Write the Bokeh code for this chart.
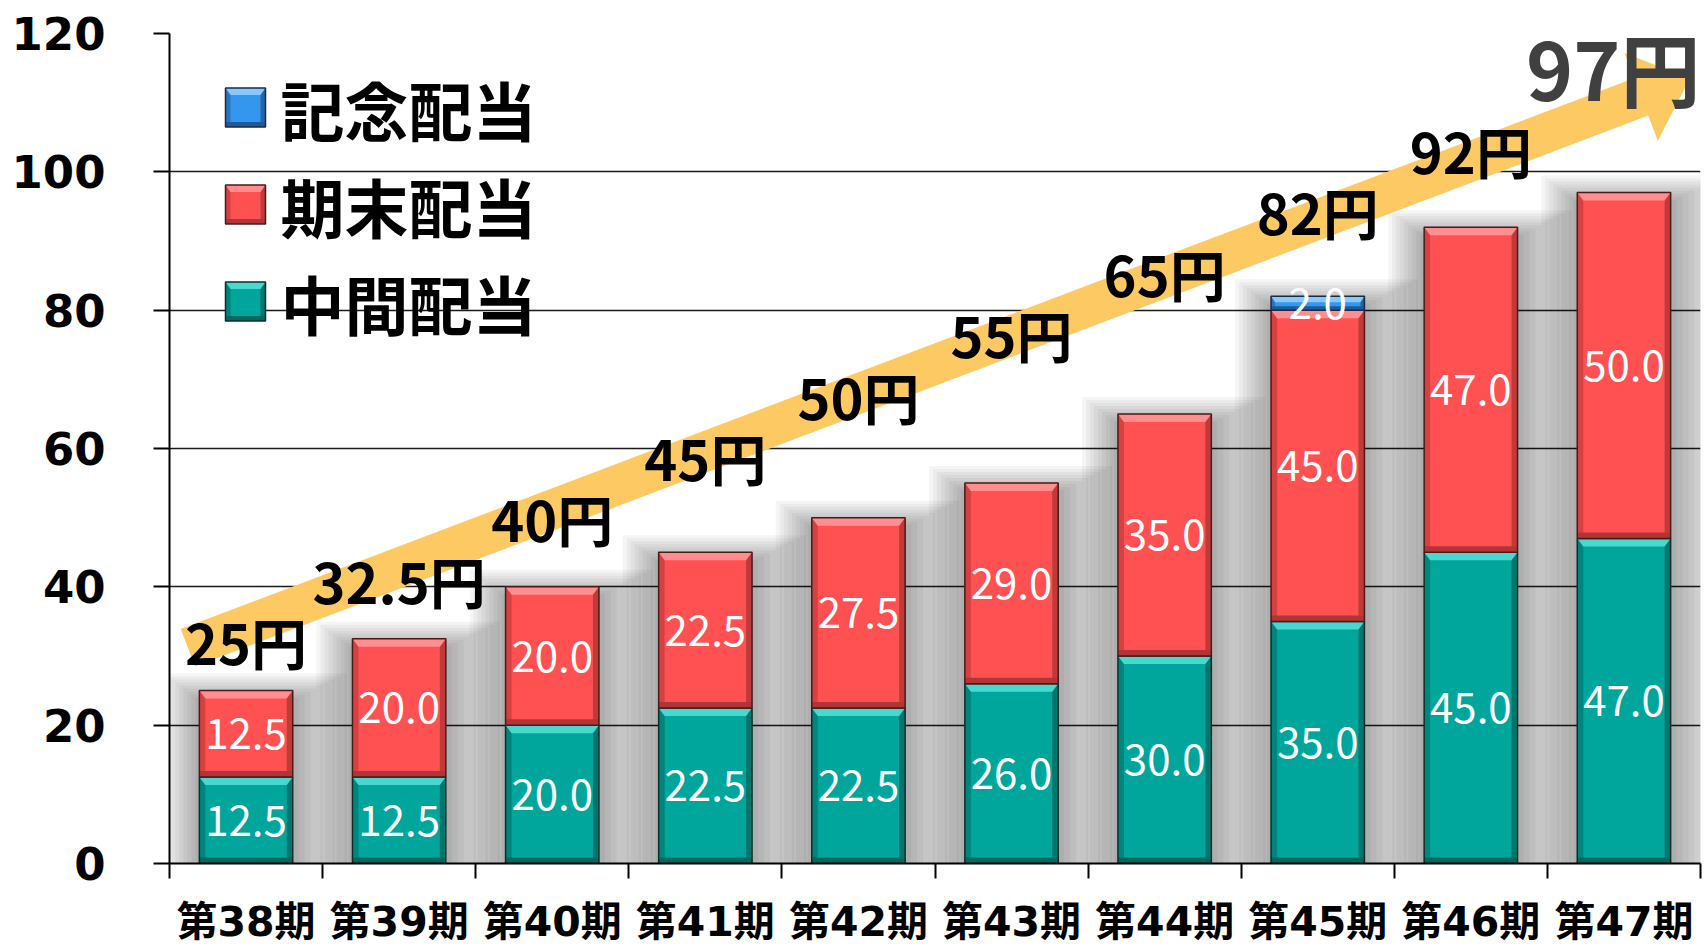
import numpy as np
from bokeh.plotting import figure
from bokeh.models import Range1d, FixedTicker, Label
from bokeh.core.properties import value
from bokeh.embed import file_html
from bokeh.resources import INLINE

# ---------------- data ----------------
periods = ["第38期", "第39期", "第40期", "第41期", "第42期",
           "第43期", "第44期", "第45期", "第46期", "第47期"]
interim_div = [12.5, 12.5, 20.0, 22.5, 22.5, 26.0, 30.0, 35.0, 45.0, 47.0]
yearend_div = [12.5, 20.0, 20.0, 22.5, 27.5, 29.0, 35.0, 45.0, 47.0, 50.0]
commem_div = [0, 0, 0, 0, 0, 0, 0, 2.0, 0, 0]
series_names = ["記念配当", "期末配当", "中間配当"]
y_ticks = [0, 20, 40, 60, 80, 100, 120]

# ---------------- layout ----------------
W, H = 1706, 950
BL, BT = 169, 33
FW, FH = 1531, 830
BR, BB = W - BL - FW, H - BT - FH
YMAX = 120
N = len(periods)
XU = N / FW
YU = YMAX / FH


def px_x(n):
    return n * XU


def px_y(n):
    return n * YU


def page_x(px):
    return (px - BL) * XU


def page_y(py):
    return (BT + FH - py) * YU


CJK = "Noto Sans CJK JP"
styles = {
    "commem": dict(base="#3596EE", light="#86C8FF", dark="#1D5A99", edge="#1B2B40"),
    "yearend": dict(base="#FF5151", light="#FF8F8F", dark="#B23434", edge="#4A1A1A"),
    "interim": dict(base="#00A59B", light="#47D9CF", dark="#006A63", edge="#0C2E2B"),
}

p = figure(width=W, height=H, x_range=Range1d(0, N), y_range=Range1d(0, YMAX),
           output_backend="svg", toolbar_location=None,
           min_border_left=BL, min_border_right=BR, min_border_top=BT,
           min_border_bottom=BB)
p.background_fill_color = "white"
p.border_fill_color = "white"
p.outline_line_color = None

xc = np.arange(N) + 0.5
interim = np.array(interim_div, dtype=float)
yearend = np.array(yearend_div, dtype=float)
commem = np.array(commem_div, dtype=float)
tot = interim + yearend + commem
HW = 0.305

# ---------------- soft shadows behind the bars ----------------
for k in range(1, 10):
    p.quad(left=xc - HW - px_x(4.0 * k), right=xc + HW + px_x(6.0 * k),
           bottom=0, top=tot - px_y(10) + px_y(3.0 * k),
           fill_color="black", fill_alpha=0.038, line_color=None)

# ---------------- rising arrow ----------------
ax0, ay0 = 0.12, 31.2
ax1, ay1 = 9.93, 113.5
sx, sy = FW / N, FH / YMAX
P0 = np.array([ax0 * sx, ay0 * sy])
P1 = np.array([ax1 * sx, ay1 * sy])
d = (P1 - P0) / np.linalg.norm(P1 - P0)
nv = np.array([-d[1], d[0]])
SH, HH, HL = 20, 47, 52
base = P1 - d * HL
pts = [P0 + nv * SH, base + nv * SH, base + nv * HH, P1,
       base - nv * HH, base - nv * SH, P0 - nv * SH]
p.patch([q[0] / sx for q in pts], [q[1] / sy for q in pts],
        fill_color="#FDC963", line_color=None)


# ---------------- bevelled blocks ----------------
def bevel_blocks(x0, x1, b, t, st, bev=6):
    x0, x1, b, t = (np.asarray(v, dtype=float) for v in (x0, x1, b, t))
    p.quad(left=x0, right=x1, bottom=b, top=t, fill_color=st["base"], line_color=None)
    p.quad(left=x0, right=x0 + px_x(bev), bottom=b, top=t,
           fill_color=st["dark"], fill_alpha=0.55, line_color=None)
    p.quad(left=x1 - px_x(bev), right=x1, bottom=b, top=t,
           fill_color=st["dark"], fill_alpha=0.8, line_color=None)
    p.quad(left=x0, right=x1, bottom=b, top=b + px_y(bev),
           fill_color=st["dark"], line_color=None)
    xs = [[a, c, c - px_x(bev), a + px_x(bev)] for a, c in zip(x0, x1)]
    ys = [[tt, tt, tt - px_y(bev + 2), tt - px_y(bev + 2)] for tt in t]
    p.patches(xs, ys, fill_color=st["light"], line_color=None)
    p.quad(left=x0, right=x1, bottom=b, top=t, fill_color=None,
           line_color=st["edge"], line_width=1.5)


bevel_blocks(xc - HW, xc + HW, np.zeros(N), interim, styles["interim"])
bevel_blocks(xc - HW, xc + HW, interim, interim + yearend, styles["yearend"])
m = commem > 0
bevel_blocks((xc - HW)[m], (xc + HW)[m], (interim + yearend)[m], tot[m], styles["commem"], bev=4)

# ---------------- value labels ----------------
lab_x = list(xc) + list(xc) + list(xc[m])
lab_y = list(interim / 2) + list(interim + yearend / 2) + list((interim + yearend + commem / 2)[m])
lab_t = [f"{v:.1f}" for v in interim] + [f"{v:.1f}" for v in yearend] + [f"{v:.1f}" for v in commem[m]]
p.text(lab_x, lab_y, text=lab_t, text_align="center", text_baseline="middle",
       text_color="white", text_font=value(CJK), text_font_size="42px")

# ---------------- total labels along the arrow ----------------
LY0, LSTEP = 32.2, 8.88
tot_text = [f"{v:g}円" for v in tot]
p.text(xc[:-1], LY0 + LSTEP * np.arange(N - 1), text=tot_text[:-1],
       text_align="center", text_baseline="middle", text_color="black",
       text_font=value(CJK), text_font_style="bold", text_font_size="56px")
p.text([N], [115.3], text=[tot_text[-1]], text_align="right", text_baseline="middle",
       text_color="#404040", text_font=value(CJK), text_font_style="bold",
       text_font_size="80px")

# ---------------- legend ----------------
legend_styles = [styles["commem"], styles["yearend"], styles["interim"]]
for r, (name, st) in enumerate(zip(series_names, legend_styles)):
    cy = 107 + 97 * r
    bevel_blocks([page_x(225)], [page_x(265)], [page_y(cy + 19.5)], [page_y(cy - 19.5)], st, bev=5)
    p.add_layout(Label(x=page_x(280), y=page_y(cy), text=name, text_font=CJK,
                       text_font_size="64px", text_font_style="bold",
                       text_baseline="middle", text_color="black"))

# ---------------- axes & grid ----------------
p.xgrid.visible = False
p.ygrid.ticker = FixedTicker(ticks=y_ticks)
p.ygrid.grid_line_color = "#1a1a1a"
p.ygrid.grid_line_width = 1.5

p.yaxis.ticker = FixedTicker(ticks=y_ticks)
p.yaxis.major_label_text_font = "DejaVu Sans"
p.yaxis.major_label_text_font_style = "bold"
p.yaxis.major_label_text_font_size = "45px"
p.yaxis.major_label_text_color = "black"
p.yaxis.major_tick_out = 16
p.yaxis.major_tick_in = 0
p.yaxis.minor_tick_out = 0
p.yaxis.minor_tick_in = 0
p.yaxis.major_tick_line_width = 2
p.yaxis.axis_line_width = 2
p.yaxis.major_label_standoff = 48

p.xaxis.ticker = FixedTicker(ticks=list(xc), minor_ticks=list(range(N + 1)))
p.xaxis.major_label_overrides = {float(x): s for x, s in zip(xc, periods)}
p.xaxis.major_label_text_font = "'DejaVu Sans', 'Noto Sans CJK JP'"
p.xaxis.major_label_text_font_style = "bold"
p.xaxis.major_label_text_font_size = "41px"
p.xaxis.major_label_text_color = "black"
p.xaxis.major_tick_out = 0
p.xaxis.major_tick_in = 0
p.xaxis.minor_tick_out = 15
p.xaxis.minor_tick_in = 0
p.xaxis.minor_tick_line_width = 2
p.xaxis.minor_tick_line_color = "black"
p.xaxis.axis_line_width = 2
p.xaxis.major_label_standoff = 19

open("out.html", "w").write(file_html(p, INLINE))
